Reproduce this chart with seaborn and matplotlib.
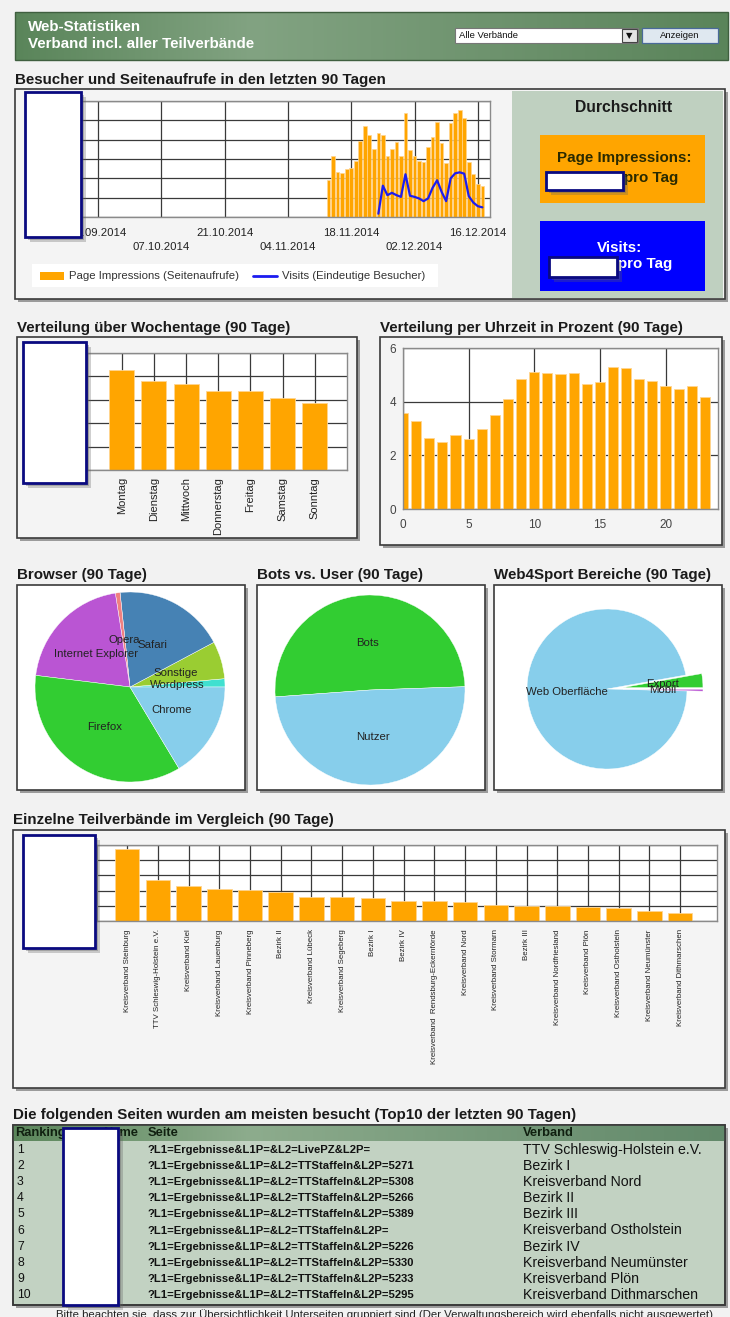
import numpy as np
import pandas as pd
import matplotlib.pyplot as plt
import seaborn as sns
from matplotlib.patches import Rectangle
from matplotlib.colors import LinearSegmentedColormap

sns.set_style('white')
plt.rcParams['font.family'] = ['Liberation Sans', 'DejaVu Sans']

"""
Data
"""
# Besucher und Seitenaufrufe (90 Tage)
start_day = pd.Timestamp('2014-09-19')
tick_dates = pd.date_range('2014-09-23', periods=7, freq='14D')
pi_dates = pd.date_range('2014-11-13', '2014-12-17')
page_impressions = [1910, 3130, 2350, 2260, 2490, 2560, 2900, 3950, 4730, 4230,
                    3510, 4350, 4260, 3180, 3530, 3860, 3170, 5360, 3440, 3130,
                    2920, 2870, 3620, 4140, 4900, 3830, 2780, 4870, 5360, 5550,
                    5130, 2870, 2210, 1700, 1620]
visit_dates = pd.date_range('2014-11-24', '2014-12-17')
visits = [170, 1620, 1130, 1250, 1130, 1040, 2210, 1100, 1040, 960, 820, 960,
          1510, 1900, 1300, 820, 2000, 2260, 2310, 2240, 1080, 750, 560, 500]

# Wochentage
weekdays = ['Montag', 'Dienstag', 'Mittwoch', 'Donnerstag', 'Freitag', 'Samstag', 'Sonntag']
weekday_values = [4.29, 3.79, 3.67, 3.36, 3.36, 3.09, 2.87]

# Uhrzeit in Prozent
hours = list(range(24))
hour_percent = [3.56, 3.29, 2.66, 2.48, 2.76, 2.60, 2.99, 3.50, 4.11, 4.84, 5.10, 5.08,
                5.04, 5.08, 4.64, 4.73, 5.31, 5.24, 4.84, 4.76, 4.59, 4.48, 4.59, 4.18]

# Pies
browsers = ['Wordpress', 'Sonstige', 'Safari', 'Opera', 'Internet Explorer', 'Firefox', 'Chrome']
browser_share = [1.4, 6.4, 18.9, 0.8, 20.6, 35.6, 16.4]
browser_colors = ['#40e0d0', '#9acd32', '#4682b4', '#f08080', '#ba55d3', '#32cd32', '#87ceeb']

bot_labels = ['Bots', 'Nutzer']
bot_share = [50.6, 49.4]
bot_colors = ['#32cd32', '#87ceeb']

bereiche = ['Export', 'Web Oberfläche', 'Mobil']
bereich_share = [2.8, 96.8, 0.4]
bereich_colors = ['#32cd32', '#87ceeb', '#ba55d3']

# Teilverbände
verbaende = ['Kreisverband Steinburg', 'TTV Schleswig-Holstein e.V.', 'Kreisverband Kiel',
             'Kreisverband Lauenburg', 'Kreisverband Pinneberg', 'Bezirk II',
             'Kreisverband Lübeck', 'Kreisverband Segeberg', 'Bezirk I', 'Bezirk IV',
             'Kreisverband  Rendsburg-Eckernförde', 'Kreisverband Nord', 'Kreisverband Stormarn',
             'Bezirk III', 'Kreisverband Nordfriesland', 'Kreisverband Plön',
             'Kreisverband Ostholstein', 'Kreisverband Neumünster', 'Kreisverband Dithmarschen']
verband_values = [4.74, 2.70, 2.30, 2.08, 2.04, 1.93, 1.56, 1.56, 1.49, 1.34,
                  1.34, 1.23, 1.05, 0.99, 0.99, 0.94, 0.88, 0.68, 0.53]

# Top10 Tabelle
ranking = [str(i) for i in range(1, 11)]
seiten = ['?L1=Ergebnisse&L1P=&L2=LivePZ&L2P=',
          '?L1=Ergebnisse&L1P=&L2=TTStaffeln&L2P=5271',
          '?L1=Ergebnisse&L1P=&L2=TTStaffeln&L2P=5308',
          '?L1=Ergebnisse&L1P=&L2=TTStaffeln&L2P=5266',
          '?L1=Ergebnisse&L1P=&L2=TTStaffeln&L2P=5389',
          '?L1=Ergebnisse&L1P=&L2=TTStaffeln&L2P=',
          '?L1=Ergebnisse&L1P=&L2=TTStaffeln&L2P=5226',
          '?L1=Ergebnisse&L1P=&L2=TTStaffeln&L2P=5330',
          '?L1=Ergebnisse&L1P=&L2=TTStaffeln&L2P=5233',
          '?L1=Ergebnisse&L1P=&L2=TTStaffeln&L2P=5295']
table_verband = ['TTV Schleswig-Holstein e.V.', 'Bezirk I', 'Kreisverband Nord', 'Bezirk II',
                 'Bezirk III', 'Kreisverband Ostholstein', 'Bezirk IV',
                 'Kreisverband Neumünster', 'Kreisverband Plön', 'Kreisverband Dithmarschen']

ORANGE = '#ffa500'
BAR_EDGE = '#ffd590'
BLUE = '#1c1cf0'
TITLE_SIZE = 10.9

"""
Page layout helpers (pixel coordinates, origin top left)
"""
W, H = 730, 1317
fig = plt.figure(figsize=(W / 100, H / 100), dpi=100, facecolor='#f2f2f2')

bg = fig.add_axes([0, 0, 1, 1])
bg.set_facecolor('#f2f2f2')


def px_axes(x, y, w, h, **kw):
    return fig.add_axes([x / W, 1 - (y + h) / H, w / W, h / H], **kw)


def panel(x, y, w, h, fc='#f4f4f4'):
    bg.add_patch(Rectangle((x + 3, y + 3), w, h, fc='#555555', ec='none', alpha=0.55))
    bg.add_patch(Rectangle((x, y), w, h, fc=fc, ec='#3a3a3a', lw=1.2))


def gradient(x0, x1, y0, y1, colors):
    cmap = LinearSegmentedColormap.from_list('g', colors)
    bg.imshow(np.linspace(0, 1, 256)[None, :], cmap=cmap, aspect='auto',
              extent=(x0, x1, y1, y0), zorder=1)


def title(x, y, s):
    bg.text(x, y, s, fontsize=TITLE_SIZE, fontweight='bold', color='#1a1a1a', ha='left', va='center')


def style_axes(ax, labelsize=7):
    ax.set_facecolor('white')
    ax.grid(True, color='#3a3a3a', lw=0.9)
    ax.set_axisbelow(True)
    for sp in ax.spines.values():
        sp.set_color('#8a8a8a')
        sp.set_linewidth(1)
    ax.tick_params(length=3, color='#888888', labelsize=labelsize, labelcolor='#222222', pad=2)
    ax.set_xlabel('')
    ax.set_ylabel('')


"""
Header
"""
gradient(15, 728, 12, 60, ['#5a855a', '#82a382', '#6e936e', '#5a845a'])
bg.add_patch(Rectangle((15, 12), 713, 48, fc='none', ec='#3f5f3f', lw=1))
bg.text(28, 27, 'Web-Statistiken', fontsize=10.9, fontweight='bold', color='white', va='center')
bg.text(28, 44, 'Verband incl. aller Teilverbände', fontsize=10.9, fontweight='bold', color='white', va='center')
bg.add_patch(Rectangle((455, 28), 183, 15, fc='white', ec='#777777', lw=0.8))
bg.text(459, 35.5, 'Alle Verbände', fontsize=6.8, color='#111111', va='center')
bg.add_patch(Rectangle((622, 29), 15, 13, fc='#e4e4e4', ec='#444444', lw=0.8))
bg.text(629.5, 35.5, '▼', fontsize=6, color='#111111', ha='center', va='center', family='DejaVu Sans')
bg.add_patch(Rectangle((642, 28), 76, 15, fc='#dfe8f0', ec='#4a6a9a', lw=0.9))
bg.text(680, 35.5, 'Anzeigen', fontsize=6.8, color='#111111', ha='center', va='center')

"""
Besucher und Seitenaufrufe
"""
title(15, 80, 'Besucher und Seitenaufrufe in den letzten 90 Tagen')
panel(15, 89, 710, 210)
bg.add_patch(Rectangle((512, 91), 211, 207, fc='#bfd0c0', ec='none'))
bg.text(624, 107, 'Durchschnitt', fontsize=11.3, fontweight='bold', color='#1a1a1a', ha='center', va='center')
bg.add_patch(Rectangle((540, 135), 165, 68, fc=ORANGE, ec='none'))
bg.text(624, 158, 'Page Impressions:', fontsize=10.9, fontweight='bold', color='#2a2a00', ha='center', va='center')
bg.text(624, 178, 'pro Tag', fontsize=10.9, fontweight='bold', color='#2a2a00', ha='left', va='center')
bg.add_patch(Rectangle((540, 221), 165, 70, fc='#0000ff', ec='none'))
bg.text(620, 248, 'Visits:', fontsize=10.9, fontweight='bold', color='white', ha='center', va='center')
bg.text(618, 264, 'pro Tag', fontsize=10.9, fontweight='bold', color='white', ha='left', va='center')

# legend
bg.add_patch(Rectangle((32, 264), 406, 23, fc='white', ec='none'))
bg.add_patch(Rectangle((40, 272), 24, 8, fc=ORANGE, ec='none'))
bg.text(69, 276, 'Page Impressions (Seitenaufrufe)', fontsize=8.2, color='#333333', va='center')
bg.plot([253, 277], [276, 276], color=BLUE, lw=2)
bg.text(282, 276, 'Visits (Eindeutige Besucher)', fontsize=8.2, color='#333333', va='center')

ax1 = px_axes(80, 101, 410, 116)
pi_x = np.array((pi_dates - start_day).days)
visit_x = np.array((visit_dates - start_day).days)
tick_x = np.array((tick_dates - start_day).days)
sns.barplot(x=pi_x, y=page_impressions, native_scale=True, color=ORANGE, saturation=1,
            width=0.8, edgecolor=BAR_EDGE, linewidth=0.5, errorbar=None, ax=ax1)
sns.lineplot(x=visit_x, y=visits, color=BLUE, lw=1.6, ax=ax1)
ax1.set_xlim(0, 90.7)
ax1.set_ylim(0, 6000)
ax1.set_yticks(range(0, 6001, 1000))
ax1.set_yticklabels([])
ax1.set_xticks(tick_x)
ax1.set_xticklabels([d.strftime('%d.%m.%Y') if i % 2 == 0 else '\n' + d.strftime('%d.%m.%Y')
                     for i, d in enumerate(tick_dates)])
style_axes(ax1, labelsize=8.2)
ax1.tick_params(axis='x', pad=5)
ax1.tick_params(axis='y', length=0)
for lbl in ax1.get_xticklabels():
    lbl.set_linespacing(1.45)

"""
Verteilung über Wochentage
"""
title(17, 328, 'Verteilung über Wochentage (90 Tage)')
panel(17, 337, 340, 201)
ax2 = px_axes(87, 353, 260, 117)
sns.barplot(x=weekdays, y=weekday_values, color=ORANGE, saturation=1, width=0.78,
            edgecolor=BAR_EDGE, linewidth=0.6, errorbar=None, ax=ax2)
ax2.set_xlim(-1.08, 7)
ax2.set_ylim(0, 5)
ax2.set_yticks(range(6))
ax2.set_yticklabels([])
style_axes(ax2, labelsize=8)
ax2.tick_params(axis='x', rotation=90, pad=2)
ax2.tick_params(axis='y', length=0)

"""
Verteilung per Uhrzeit
"""
title(380, 328, 'Verteilung per Uhrzeit in Prozent (90 Tage)')
panel(380, 337, 342, 208)
ax3 = px_axes(403, 348, 315, 161)
sns.barplot(x=hours, y=hour_percent, native_scale=True, color=ORANGE, saturation=1,
            width=0.78, edgecolor=BAR_EDGE, linewidth=0.6, errorbar=None, ax=ax3)
ax3.set_xlim(0, 24)
ax3.set_ylim(0, 6)
ax3.set_yticks([0, 2, 4, 6])
ax3.set_xticks([0, 5, 10, 15, 20])
style_axes(ax3, labelsize=8.5)
ax3.tick_params(labelcolor='#444444')
ax3.tick_params(axis='x', pad=4)

"""
Pies
"""
title(17, 575, 'Browser (90 Tage)')
title(257, 575, 'Bots vs. User (90 Tage)')
title(494, 575, 'Web4Sport Bereiche (90 Tage)')
for x0 in (17, 257, 494):
    panel(x0, 585, 228, 205, fc='white')

pie_text = dict(fontsize=8.2, color='#222222', ha='center', va='center')
pie_wedge = dict(edgecolor='white', linewidth=0.3)

axp1 = px_axes(35, 592, 190, 190)
axp1.pie(browser_share, labels=browsers, colors=browser_colors, startangle=0,
         labeldistance=0.5, wedgeprops=pie_wedge, textprops=pie_text)
axp2 = px_axes(275, 595, 190, 190)
axp2.pie(bot_share, labels=bot_labels, colors=bot_colors, startangle=2,
         labeldistance=0.5, wedgeprops=pie_wedge, textprops=pie_text)
axp3 = px_axes(527, 609, 160, 160)
axp3.pie(bereich_share, labels=bereiche, colors=bereich_colors, startangle=0,
         explode=[0.2, 0, 0.2], labeldistance=0.5, wedgeprops=pie_wedge, textprops=pie_text)
for axp in (axp1, axp2, axp3):
    axp.set_xlim(-1, 1)
    axp.set_ylim(-1, 1)

"""
Teilverbände
"""
title(13, 820, 'Einzelne Teilverbände im Vergleich (90 Tage)')
panel(13, 830, 712, 258)
ax5 = px_axes(97, 845, 620, 76)
sns.barplot(x=verbaende, y=verband_values, color=ORANGE, saturation=1, width=0.8,
            edgecolor=BAR_EDGE, linewidth=0.6, errorbar=None, ax=ax5)
ax5.set_xlim(-0.98, 19.2)
ax5.set_ylim(0, 5)
ax5.set_yticks(range(6))
ax5.set_yticklabels([])
style_axes(ax5, labelsize=5.7)
ax5.tick_params(axis='x', rotation=90, pad=3)
ax5.tick_params(axis='y', length=0)

"""
Top10 Tabelle
"""
title(13, 1115, 'Die folgenden Seiten wurden am meisten besucht (Top10 der letzten 90 Tagen)')
panel(13, 1125, 712, 180, fc='#c2d2c2')
gradient(13, 725, 1125, 1141, ['#5c875c', '#8dac8d', '#76997a', '#62896a'])
bg.add_patch(Rectangle((13, 1125), 712, 180, fc='none', ec='#3a3a3a', lw=1.2))
for x0, s in [(15, 'Ranking'), (103, 'Name'), (148, 'Seite'), (523, 'Verband')]:
    bg.text(x0, 1133, s, fontsize=9.3, fontweight='bold', color='#102010', va='center')
for i in range(len(ranking)):
    y = 1150 + i * 16.1
    bg.text(17, y, ranking[i], fontsize=8.8, color='#111111', va='center')
    bg.text(148, y, seiten[i], fontsize=8.1, fontweight='bold', color='#111111', va='center')
    bg.text(523, y, table_verband[i], fontsize=10.2, color='#111111', va='center')

bg.text(385, 1315, 'Bitte beachten sie, dass zur Übersichtlichkeit Unterseiten gruppiert sind '
        '(Der Verwaltungsbereich wird ebenfalls nicht ausgewertet)',
        fontsize=8.2, color='#222222', ha='center', va='center')

bg.set_xlim(0, W)
bg.set_ylim(H, 0)
bg.axis('off')

"""
White cover boxes on top
"""
ov = fig.add_axes([0, 0, 1, 1], zorder=10)
ov.set_xlim(0, W)
ov.set_ylim(H, 0)
ov.axis('off')


def mask(x, y, w, h):
    ov.add_patch(Rectangle((x + 5, y + 5), w, h, fc='#606060', ec='none', alpha=0.3))
    ov.add_patch(Rectangle((x + 2.5, y + 2.5), w, h, fc='#606060', ec='none', alpha=0.35))
    ov.add_patch(Rectangle((x, y), w, h, fc='white', ec='#0a0a80', lw=2))


mask(25, 92, 56, 145)
mask(546, 172, 77, 18)
mask(549, 257, 68, 20)
mask(23, 342, 63, 141)
mask(23, 835, 72, 113)
mask(63, 1128, 55, 177)

fig.savefig('out.png', dpi=100, facecolor=fig.get_facecolor())
